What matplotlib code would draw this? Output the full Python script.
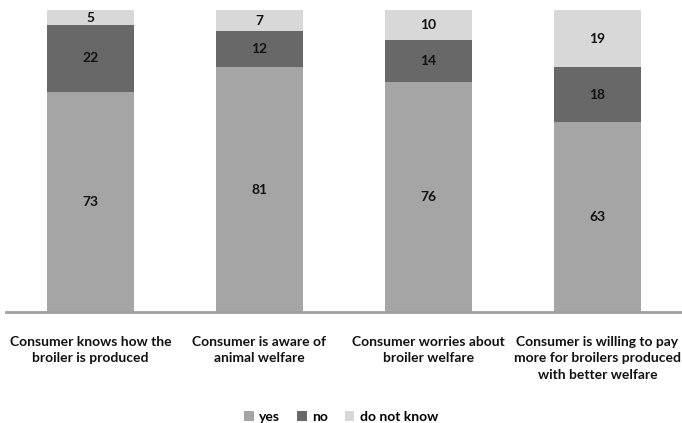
import matplotlib
matplotlib.use("Agg")
import matplotlib.pyplot as plt
import numpy as np

categories = ["Consumer knows how the\nbroiler is produced",
              "Consumer is aware of\nanimal welfare",
              "Consumer worries about\nbroiler welfare",
              "Consumer is willing to pay\nmore for broilers produced\nwith better welfare"]
yes = [73, 81, 76, 63]
no = [22, 12, 14, 18]
dont_know = [5, 7, 10, 19]
series_names = ["yes", "no", "do not know"]
colors = ["#a5a5a5", "#686868", "#d8d8d8"]

plt.rcParams['font.family'] = ['Lato', 'DejaVu Sans']

fig = plt.figure(figsize=(6.82, 4.23), dpi=100)
ax = fig.add_axes([6/682, 1 - 312/423, 676/682, 302/423])

x = np.arange(len(categories))
w = 0.51
bottom = np.zeros(len(categories))
for vals, name, c in zip([yes, no, dont_know], series_names, colors):
    ax.bar(x, vals, w, bottom=bottom, color=c, label=name)
    for xi, v, b in zip(x, vals, bottom):
        ax.text(xi, b + v / 2, str(v), ha='center', va='center',
                fontsize=10, fontweight='bold', color='#111111')
    bottom += np.array(vals)

ax.set_xlim(-0.5, 3.5)
ax.set_ylim(0, 100)
for s in ['top', 'right', 'left']:
    ax.spines[s].set_visible(False)
ax.spines['bottom'].set_color('#a0a0a0')
ax.spines['bottom'].set_linewidth(2)
ax.set_yticks([])
ax.set_xticks(x)
ax.set_xticklabels(categories, fontsize=10, fontweight='bold', color='#111111',
                   linespacing=1.45)
ax.tick_params(axis='x', length=0, pad=17)

fig.legend(loc='lower center', bbox_to_anchor=(0.5, -0.03), ncol=3,
           frameon=False, handlelength=0.7, handleheight=0.7,
           handletextpad=0.4, columnspacing=1.2,
           prop={'weight': 'bold', 'size': 10})

fig.savefig("out.png", dpi=100)
